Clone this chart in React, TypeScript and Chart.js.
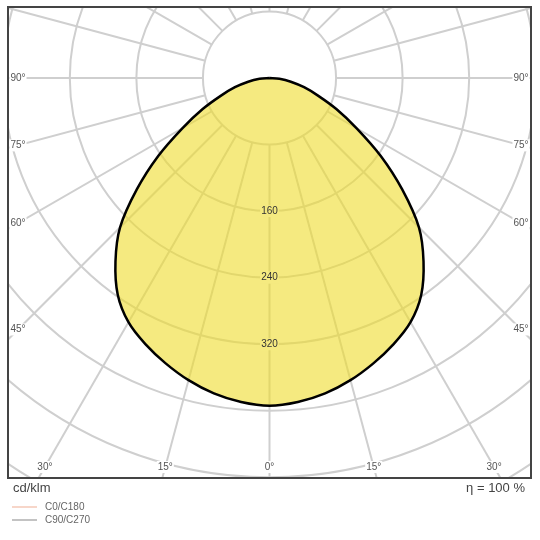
import { useEffect, useRef } from "react";
import { Chart, registerables } from "chart.js";

Chart.register(...registerables);

// luminous intensity (cd/klm) per gamma angle, symmetric left/right
const gammaAngles = [0, 5, 10, 15, 20, 25, 30, 35, 40, 45, 50, 55, 60, 65, 70, 75, 80, 85, 90];
const intensity = [394, 391, 385, 376, 365, 353, 339, 318, 288, 254, 208, 163, 121, 89, 62, 43, 26, 12, 0];

const ringValues = [80, 160, 240, 320, 400, 480, 560, 640, 720];
const ringLabels = [160, 240, 320];
const sideTicks = [90, 75, 60, 45];
const bottomTicks = [30, 15, 0];
const legendItems = ["C0/C180", "C90/C270"];
const legendColors = ["#f2bba5", "#9a9a9a"];

const toRad = (d: number) => (d * Math.PI) / 180;

const curve = [
  ...gammaAngles
    .map((a, i) => ({ x: -intensity[i] * Math.sin(toRad(a)), y: -intensity[i] * Math.cos(toRad(a)) }))
    .reverse(),
  ...gammaAngles
    .slice(1)
    .map((a, i) => ({ x: intensity[i + 1] * Math.sin(toRad(a)), y: -intensity[i + 1] * Math.cos(toRad(a)) })),
];

const FONT = "'Liberation Sans', Arial, sans-serif";

const polarGrid = {
  id: "polarGrid",
  beforeDatasetsDraw(chart: any) {
    const { ctx, chartArea, scales } = chart;
    const cx = scales.x.getPixelForValue(0);
    const cy = scales.y.getPixelForValue(0);
    const k = scales.x.getPixelForValue(1) - cx;
    ctx.save();
    ctx.beginPath();
    ctx.rect(chartArea.left, chartArea.top, chartArea.right - chartArea.left, chartArea.bottom - chartArea.top);
    ctx.clip();
    ctx.strokeStyle = "#cfcfcf";
    ctx.lineWidth = 2;
    ringValues.forEach((v) => {
      ctx.beginPath();
      ctx.arc(cx, cy, v * k, 0, Math.PI * 2);
      ctx.stroke();
    });
    const r0 = ringValues[0] * k;
    const r1 = ringValues[ringValues.length - 1] * k;
    for (let a = 0; a < 360; a += 15) {
      const s = Math.sin(toRad(a));
      const c = Math.cos(toRad(a));
      ctx.beginPath();
      ctx.moveTo(cx + r0 * s, cy + r0 * c);
      ctx.lineTo(cx + r1 * s, cy + r1 * c);
      ctx.stroke();
    }
    ctx.restore();
  },
  afterDraw(chart: any) {
    const { ctx, chartArea, scales } = chart;
    const { left, right, top, bottom } = chartArea;
    const cx = scales.x.getPixelForValue(0);
    const cy = scales.y.getPixelForValue(0);
    const k = scales.x.getPixelForValue(1) - cx;
    ctx.save();
    ctx.textAlign = "center";
    ctx.textBaseline = "middle";

    const boxed = (txt: string, x: number, y: number, bg: string, color: string) => {
      const w = ctx.measureText(txt).width;
      ctx.fillStyle = bg;
      ctx.fillRect(x - w / 2 - 1, y - 6, w + 2, 12);
      ctx.fillStyle = color;
      ctx.fillText(txt, x, y);
    };

    // radial value labels
    ctx.font = `10px ${FONT}`;
    ringLabels.forEach((v) => {
      boxed(String(v), cx, cy + v * k, "rgb(245,234,128)", "#333");
    });

    // angle labels on sides
    sideTicks.forEach((a) => {
      const t = Math.tan(toRad(a));
      const xl = left + 10;
      const xr = right - 10;
      const yl = a === 90 ? cy : cy + (cx - xl) / t;
      const yr = a === 90 ? cy : cy + (xr - cx) / t;
      boxed(`${a}°`, xl, yl, "#fff", "#555");
      boxed(`${a}°`, xr, yr, "#fff", "#555");
    });
    // angle labels at bottom
    bottomTicks.forEach((a) => {
      const yb = bottom - 11;
      const dx = (yb - cy) * Math.tan(toRad(a));
      boxed(`${a}°`, cx - dx, yb, "#fff", "#555");
      if (a !== 0) boxed(`${a}°`, cx + dx, yb, "#fff", "#555");
    });

    // frame
    ctx.strokeStyle = "#444";
    ctx.lineWidth = 2;
    ctx.strokeRect(left, top, right - left, bottom - top);

    // unit + efficiency
    ctx.font = `13px ${FONT}`;
    ctx.fillStyle = "#444";
    ctx.textAlign = "left";
    ctx.fillText("cd/klm", left + 5, bottom + 10);
    ctx.textAlign = "right";
    ctx.fillText("η = 100 %", right - 6, bottom + 10);

    // legend
    ctx.font = `10px ${FONT}`;
    ctx.textAlign = "left";
    legendItems.forEach((txt, i) => {
      const y = bottom + 29 + i * 13;
      ctx.strokeStyle = legendColors[i];
      ctx.lineWidth = 1.2;
      ctx.beginPath();
      ctx.moveTo(left + 4, y);
      ctx.lineTo(left + 29, y);
      ctx.stroke();
      ctx.fillStyle = "#666";
      ctx.fillText(txt, left + 37, y);
    });
    ctx.restore();
  },
};

const LightDistribution = () => {
  const chartRef = useRef<HTMLCanvasElement>(null);
  const chartInstance = useRef<Chart | null>(null);

  useEffect(() => {
    if (!chartRef.current) return;
    if (chartInstance.current) chartInstance.current.destroy();

    chartInstance.current = new Chart(chartRef.current, {
      type: "scatter",
      data: {
        datasets: [
          {
            data: curve,
            showLine: true,
            borderColor: "#000",
            borderWidth: 2.5,
            backgroundColor: "rgba(238,220,43,0.6)",
            fill: "shape",
            pointRadius: 0,
            tension: 0.3,
          } as any,
        ],
      },
      options: {
        responsive: true,
        maintainAspectRatio: false,
        animation: false,
        layout: { padding: { left: 8, top: 7, right: 9, bottom: 62 } },
        scales: {
          x: { type: "linear", min: -314.3, max: 314.3, display: false },
          y: { type: "linear", min: -480.8, max: 85.3, display: false },
        },
        plugins: {
          legend: { display: false },
          tooltip: { enabled: false },
        },
      },
      plugins: [polarGrid],
    });

    return () => {
      if (chartInstance.current) {
        chartInstance.current.destroy();
        chartInstance.current = null;
      }
    };
  }, []);

  return (
    <div style={{ position: "fixed", left: 0, top: 0, width: 540, height: 540, background: "#fff" }}>
      <canvas ref={chartRef} />
    </div>
  );
};

export default function App() {
  return <LightDistribution />;
}
